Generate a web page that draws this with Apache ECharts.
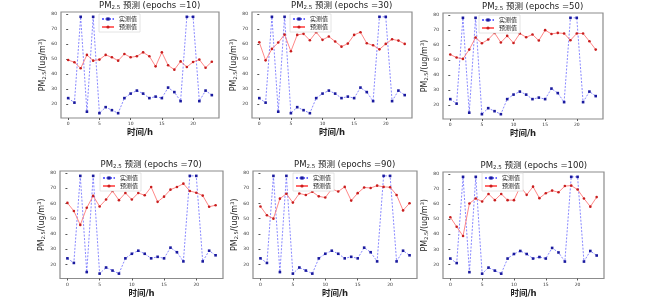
<!DOCTYPE html>
<html>
<head>
<meta charset="UTF-8">
<script src="https://cdn.jsdelivr.net/npm/echarts@6/dist/echarts.min.js"></script>
<style>
  html, body { margin: 0; padding: 0; background: #fff; }
  #main { width: 650px; height: 299px; }
</style>
</head>
<body>
<div id="main"></div>
<script>
// 时间 (h)
var hours = [];
for (var h = 0; h < 24; h++) hours.push(h);
// 实测值, same in every panel
var actual = [24, 21, 78, 15, 78, 14, 18, 16, 14, 24, 27, 29, 27, 24, 25, 24, 31, 28, 22, 78, 78, 22, 29, 26];
// 预测值 per epochs
var pred10 = [49.3, 47.8, 43.8, 52.7, 48.9, 49.6, 52.7, 51.1, 48.9, 53.3, 51.1, 51.8, 54.4, 51.8, 45.1, 54.4, 45.8, 42.9, 48.4, 44.7, 48.0, 49.6, 44.2, 48.2];
var pred30 = [61.1, 49.1, 56.7, 60.9, 66.2, 55.1, 66.0, 66.7, 62.4, 67.8, 62.7, 64.9, 61.6, 58.2, 60.2, 66.0, 67.8, 60.4, 59.1, 56.4, 60.0, 63.1, 62.2, 60.0];
var pred50 = [53.6, 51.6, 50.7, 56.9, 64.9, 61.1, 63.6, 68.0, 61.6, 66.0, 61.3, 67.6, 65.1, 66.9, 62.9, 69.8, 67.3, 68.0, 67.6, 63.1, 67.6, 67.6, 62.4, 56.9];
var pred70 = [60.3, 55.0, 45.9, 57.1, 64.9, 58.0, 62.5, 68.1, 62.1, 66.8, 62.5, 66.8, 65.3, 70.7, 61.0, 64.4, 69.0, 70.7, 72.9, 68.1, 67.0, 65.1, 57.8, 58.8];
var pred90 = [58.0, 52.2, 50.0, 63.1, 66.3, 60.5, 66.5, 65.5, 67.6, 64.6, 63.8, 69.4, 67.8, 70.8, 61.8, 66.7, 70.4, 70.1, 71.6, 70.8, 70.6, 65.5, 55.4, 60.1];
var pred100 = [51.3, 45.0, 38.9, 60.4, 63.7, 61.7, 66.7, 62.6, 66.7, 62.6, 62.6, 71.7, 66.1, 71.5, 63.9, 67.2, 68.9, 67.8, 71.9, 72.2, 69.6, 63.7, 58.3, 64.6];
var epochsList = [10, 30, 50, 70, 90, 100];
var predList = [pred10, pred30, pred50, pred70, pred90, pred100];
var xTicks = [0, 5, 10, 15, 20];
var yTicks = [20, 30, 40, 50, 60, 70, 80];

// 子图位置 [left, top, width, height]
var boxes = [
  [61, 12, 158, 106], [252, 12, 160, 106], [443, 13, 160, 106],
  [60, 171, 163, 108], [253, 171, 164, 108], [443, 172, 161, 108]
];
// 图例位置 [left, top]
var legendPos = [[99, 14], [290, 14], [479, 15], [100, 173], [293, 173], [482, 173]];

var font = 'DejaVu Sans, Noto Sans CJK SC';
var option = {
  backgroundColor: '#fff',
  animation: false,
  title: [], grid: [], xAxis: [], yAxis: [], legend: [], series: []
};

for (var i = 0; i < 6; i++) {
  var b = boxes[i];
  option.grid.push({
    left: b[0], top: b[1], width: b[2], height: b[3],
    show: true, borderColor: '#8c8c8c', borderWidth: 1.2, backgroundColor: '#fff'
  });
  var tw = epochsList[i] >= 100 ? 86 : 82;
  option.title.push({
    text: '{a|PM}{s|2.5}{a| 预测 (epochs =' + epochsList[i] + ')}',
    left: b[0] + b[2] / 2 - tw / 2, top: b[1] - 11, padding: 0,
    textStyle: {
      fontFamily: font, color: '#222', fontWeight: 'normal', fontSize: 8.5,
      rich: {
        a: { fontSize: 8.5, fontFamily: font, color: '#222', fontWeight: 'normal', lineHeight: 10 },
        s: { fontSize: 5.5, fontFamily: font, color: '#222', fontWeight: 'normal', padding: [3, 0, 0, 0], lineHeight: 10 }
      }
    }
  });
  option.xAxis.push({
    type: 'value', gridIndex: i, min: -1.15, max: 24.15,
    name: '时间/h', nameLocation: 'middle', nameGap: 11,
    nameTextStyle: { fontFamily: font, fontSize: 8.5, fontWeight: 'bold', color: '#222' },
    axisLine: { show: false },
    axisTick: { show: true, length: 2, customValues: xTicks, lineStyle: { color: '#555' } },
    axisLabel: { customValues: xTicks, fontSize: 4.5, color: '#333', margin: 4, fontFamily: font },
    splitLine: { show: false }
  });
  option.yAxis.push({
    type: 'value', gridIndex: i, min: 10.8, max: 81.2,
    name: '{a|PM}{s|2.5}{a|/(ug/m}{p|3}{a|)}', nameLocation: 'middle', nameGap: 8,
    nameTextStyle: {
      fontFamily: font, color: '#222',
      rich: {
        a: { fontSize: 8, fontFamily: font, color: '#222', lineHeight: 10 },
        s: { fontSize: 5, fontFamily: font, color: '#222', padding: [4, 0, 0, 0], lineHeight: 10 },
        p: { fontSize: 5, fontFamily: font, color: '#222', padding: [0, 0, 4, 0], lineHeight: 10 }
      }
    },
    axisLine: { show: false },
    axisTick: { show: true, length: 2, customValues: yTicks, lineStyle: { color: '#555' } },
    axisLabel: { customValues: yTicks, fontSize: 4.5, color: '#333', margin: 4, fontFamily: font },
    splitLine: { show: false }
  });
  option.legend.push({
    data: ['实测值', '预测值'], orient: 'vertical',
    left: legendPos[i][0], top: legendPos[i][1],
    itemWidth: 12, itemHeight: 4, itemGap: 2, padding: [2, 3, 2, 2],
    borderColor: '#ddd', borderWidth: 0.8, backgroundColor: '#fff',
    textStyle: { fontFamily: font, fontSize: 6, color: '#222' }
  });
  var act = [], pre = [];
  for (var k = 0; k < hours.length; k++) {
    act.push([hours[k], actual[k]]);
    pre.push([hours[k], predList[i][k]]);
  }
  option.series.push({
    name: '实测值', type: 'line', xAxisIndex: i, yAxisIndex: i, data: act,
    symbol: 'rect', symbolSize: 2.6, color: '#1a1a9e',
    itemStyle: { color: '#1a1a9e' },
    lineStyle: { color: '#6a6aff', width: 0.8, type: [2, 1.5] }
  });
  option.series.push({
    name: '预测值', type: 'line', xAxisIndex: i, yAxisIndex: i, data: pre,
    symbol: 'circle', symbolSize: 2.6, color: '#d42020',
    itemStyle: { color: '#c81e1e' },
    lineStyle: { color: '#ff6a6a', width: 0.8 }
  });
}

var chart = echarts.init(document.getElementById('main'));
chart.setOption(option);
</script>
</body>
</html>
